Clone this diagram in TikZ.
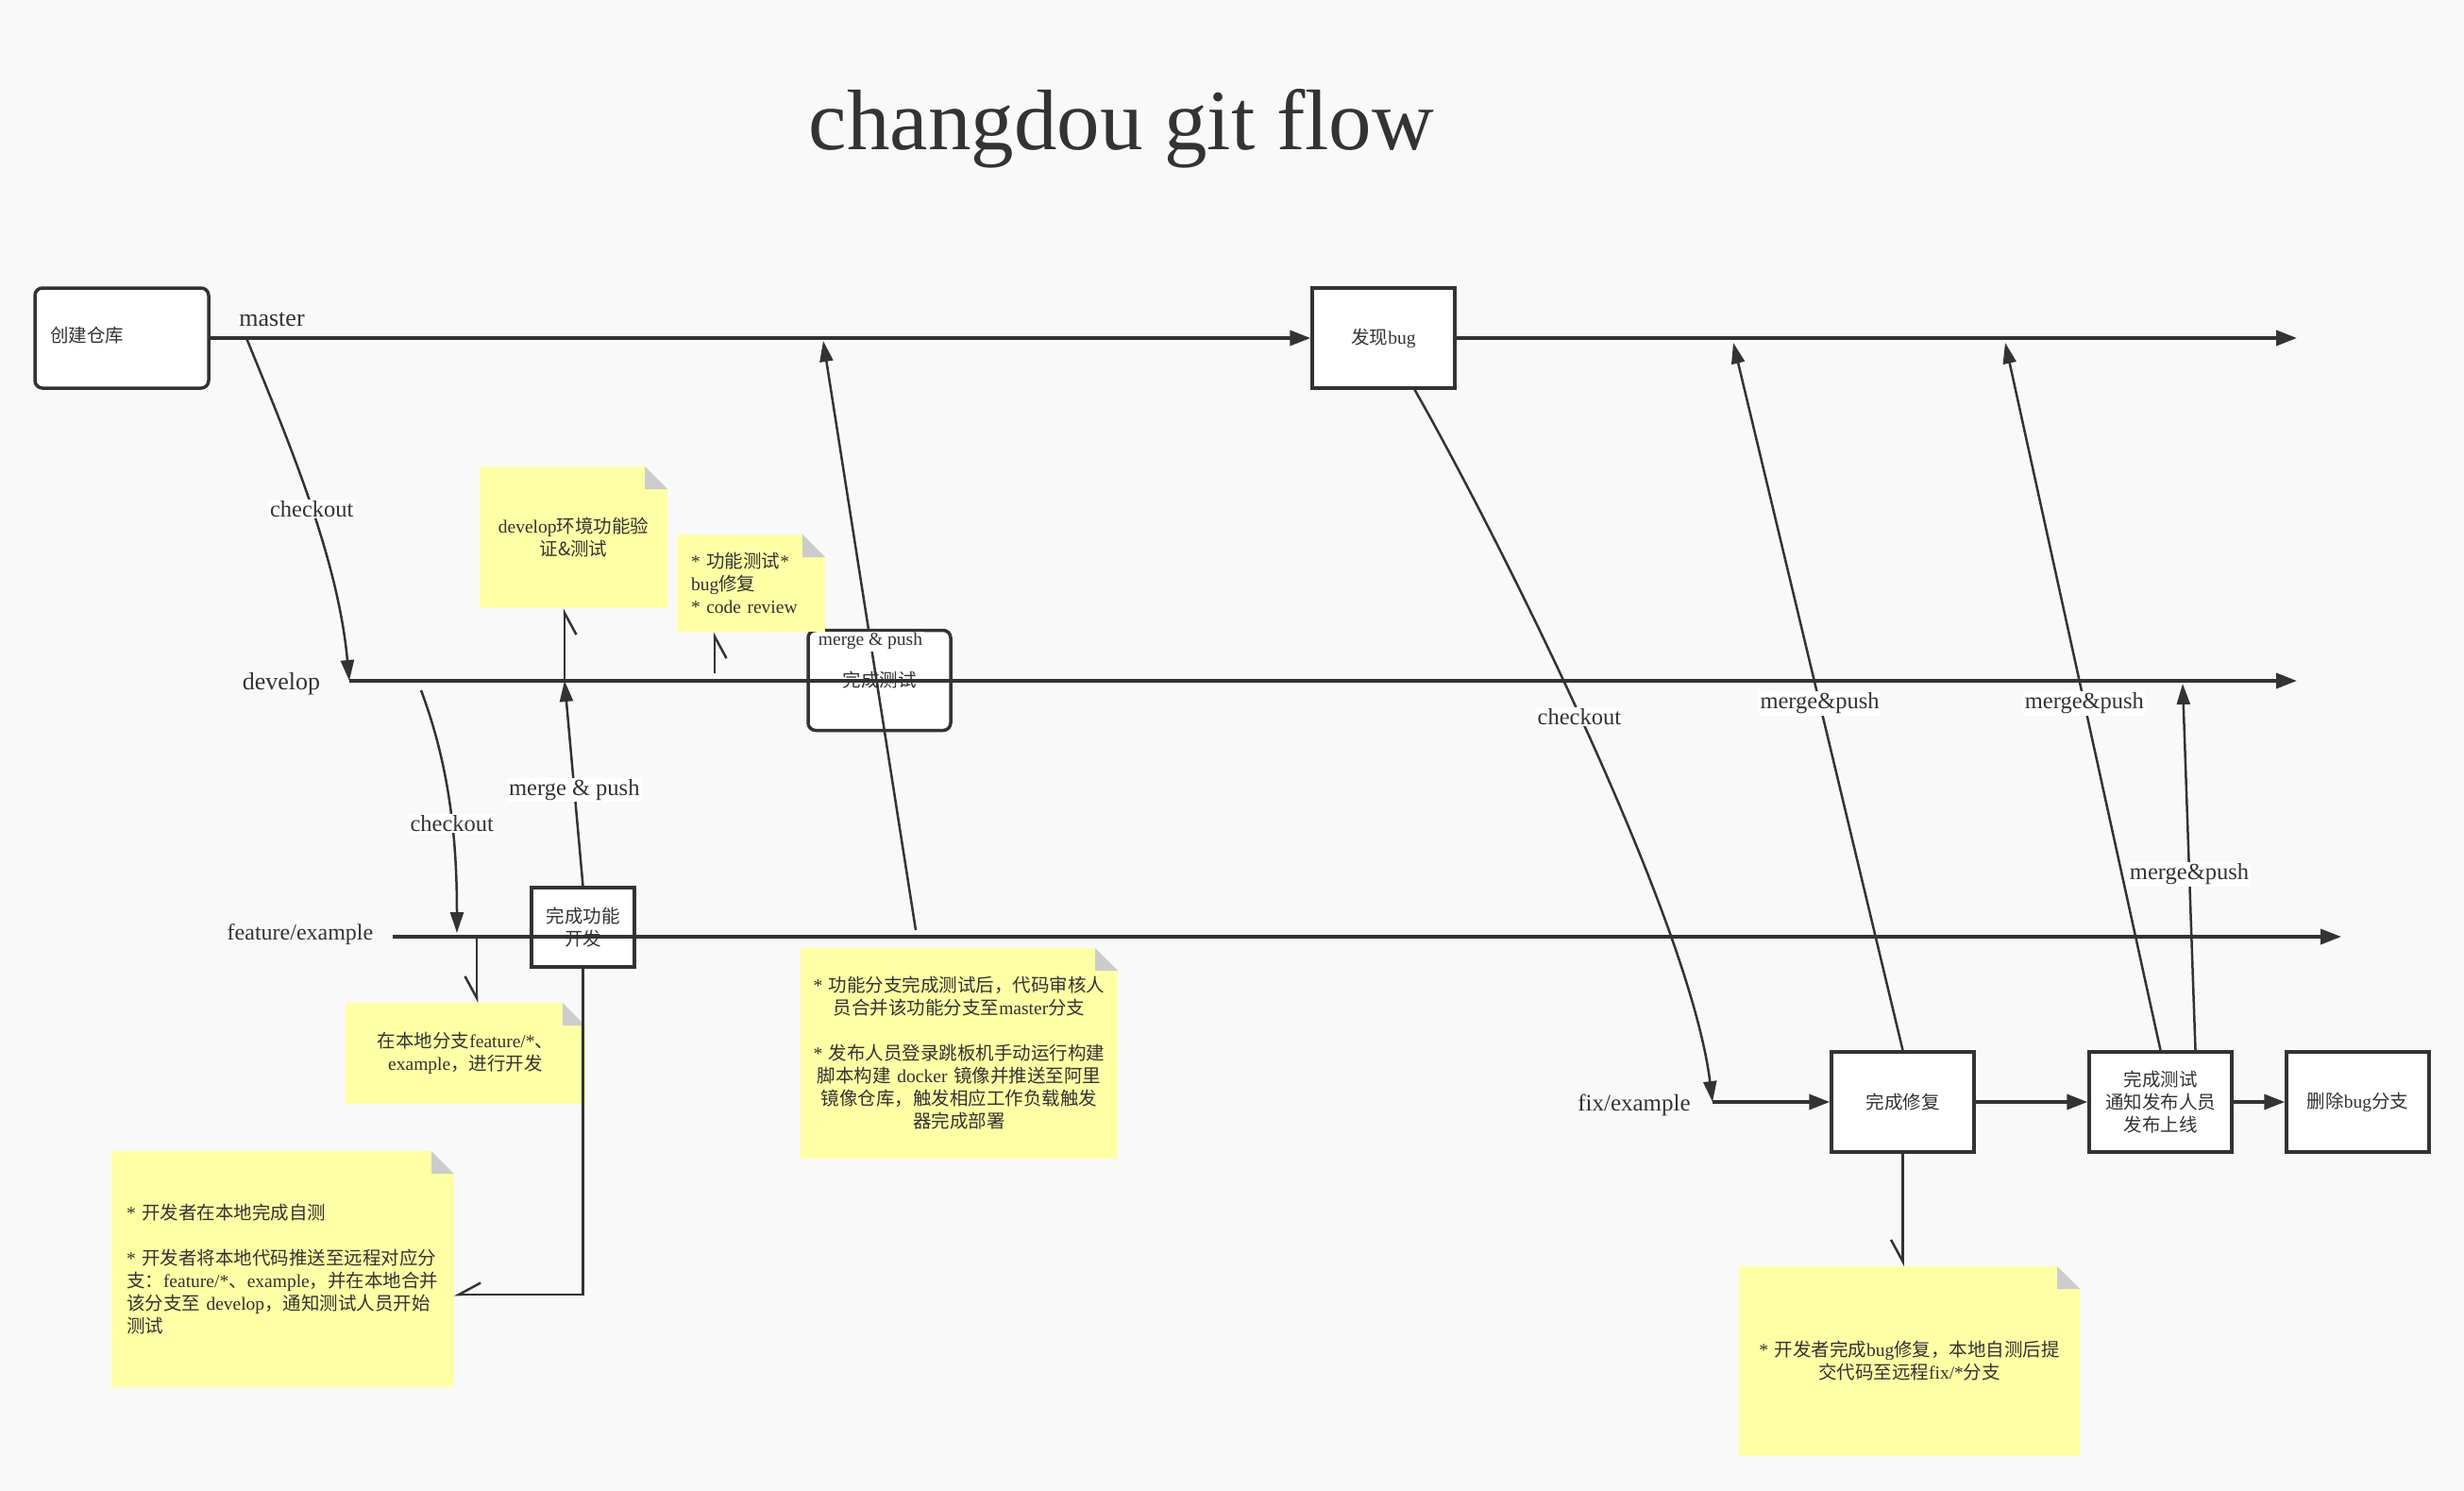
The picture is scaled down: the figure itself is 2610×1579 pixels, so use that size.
\documentclass[tikz,border=0pt]{standalone}
\usepackage{fontspec}
\setmainfont{Liberation Serif}
\newfontfamily\cjk{Noto Sans CJK SC}
\newcommand{\zh}[1]{{\cjk #1}}
\usetikzlibrary{arrows.meta, calc, positioning}

\definecolor{bgcol}{HTML}{F9F9F9}
\definecolor{inkc}{HTML}{333333}
\definecolor{notey}{HTML}{FFFFA6}
\definecolor{foldc}{HTML}{CCCCCC}

\tikzset{
  txt/.style={font=\fontsize{19.5}{24}\selectfont, text=inkc},
  box/.style={txt, draw=inkc, line width=3.5pt, fill=white, minimum width=151pt, minimum height=106pt, inner sep=0pt, align=center},
  note/.style={txt, fill=notey, inner sep=0pt, align=center,
    path picture={
      \fill[bgcol] ($(path picture bounding box.north east)+(-24pt,0pt)$) -- (path picture bounding box.north east) -- ++(0pt,-24pt) -- cycle;
      \fill[foldc] ($(path picture bounding box.north east)+(-24pt,0pt)$) -- ++(24pt,-24pt) -- ++(-24pt,0pt) -- cycle;
    }},
  branch/.style={font=\fontsize{26}{30}\selectfont, text=inkc},
  lbl/.style={font=\fontsize{24.5}{28}\selectfont, text=inkc, fill=white, inner sep=1.5pt},
  flow/.style={draw=inkc, line width=3.5pt, -{Triangle[length=22pt,width=16pt]}},
  link/.style={draw=inkc, line width=2.5pt, -{Triangle[length=22pt,width=14pt]}},
  hint/.style={draw=inkc, line width=2.5pt, -{Straight Barb[harpoon,swap,length=23pt,width=25pt]}},
}

\begin{document}
\begin{tikzpicture}[x=1pt,y=-1pt]
\fill[bgcol] (0,0) rectangle (2610,1579);
\useasboundingbox (0,0) rectangle (2610,1579);

\node[font=\fontsize{91}{100}\selectfont, text=inkc, anchor=base] (title) at (1188,158) {changdou git flow};

% boxes
\node[box, rounded corners=8pt, minimum width=184pt, text width=152pt, align=left] (repo) at (129,358) {\raisebox{8pt}{\zh{创建仓库}}};
\node[box] (bug) at (1465.5,358) {\zh{发现}bug};
\node[box, rounded corners=8pt] (devtest) at (931.5,720.5) {\zh{完成测试}};
\node[box, minimum width=109pt, minimum height=84pt] (featdone) at (617.5,982) {\zh{完成功能}\\\zh{开发}};
\node[box] (fixdone) at (2015.5,1167) {\zh{完成修复}};
\node[box] (release) at (2288.5,1167) {\zh{完成测试}\\\zh{通知发布人员}\\\zh{发布上线}};
\node[box] (delbranch) at (2497.5,1167) {\zh{删除}bug\zh{分支}};

% notes
\node[note, minimum width=199pt, minimum height=150pt, text width=170pt] (devnote) at (607.5,569) {develop\zh{环境功能验}\\\zh{证\&测试}};
\node[note, minimum width=157pt, minimum height=103pt, text width=127pt, align=left] (reviewnote) at (795.5,617.5) {* \zh{功能测试}*\\bug\zh{修复}\\{}* code review};
\node[note, minimum width=254pt, minimum height=107pt, text width=224pt] (localnote) at (493,1115.5) {\zh{在本地分支}feature/*\zh{、}\\example\zh{，进行开发}};
\node[note, minimum width=363pt, minimum height=250pt, text width=331pt, align=left] (pushnote) at (299.5,1344) {* \zh{开发者在本地完成自测}\\[24pt]* \zh{开发者将本地代码推送至远程对应分}\\\zh{支：}feature/*\zh{、}example\zh{，并在本地合并}\\\zh{该分支至} develop\zh{，通知测试人员开始}\\\zh{测试}};
\node[note, minimum width=336pt, minimum height=223pt, text width=316pt] (deploynote) at (1016,1115.5) {* \zh{功能分支完成测试后，代码审核人}\\\zh{员合并该功能分支至}master\zh{分支}\\[24pt]* \zh{发布人员登录跳板机手动运行构建}\\\zh{脚本构建} docker \zh{镜像并推送至阿里}\\\zh{镜像仓库，触发相应工作负载触发}\\\zh{器完成部署}};
\node[note, minimum width=361pt, minimum height=201pt, text width=331pt] (fixnote) at (2022.5,1441.5) {* \zh{开发者完成}bug\zh{修复，本地自测后提}\\\zh{交代码至远程}fix/*\zh{分支}};

% branch names
\node[branch] (mastername) at (288,338) {master};
\node[branch] (devname) at (298,724) {develop};
\node[font=\fontsize{24}{28}\selectfont, text=inkc] (featname) at (318,990) {feature/example};
\node[font=\fontsize{25}{28}\selectfont, text=inkc] (fixname) at (1731,1170) {fix/example};

\coordinate (masterend) at (2433,358);
\coordinate (devstart) at (370,721);
\coordinate (devend) at (2433,721);
\coordinate (featstart) at (416,992);
\coordinate (featend) at (2480,992);
\coordinate (fixstart) at (1814,1167);

% branches
\draw[flow] (repo.east) -- (bug.west);
\draw[flow] (bug.east) -- (masterend);
\draw[flow] (devstart) -- (devend);
\draw[flow] (featstart) -- (featend);
\draw[flow] (fixstart) -- (fixdone.west);
\draw[flow] (fixdone) -- (release);
\draw[flow] (release) -- (delbranch);

% checkout
\coordinate (mck) at (261,358);
\draw[link] (mck) .. controls +(45,110) and +(-12,-130) .. (devstart) node[lbl,pos=0.52] {checkout};
\coordinate (dck) at (446,731);
\coordinate (featck) at (484,988);
\draw[link] (dck) .. controls +(30,80) and +(0,-100) .. (featck) node[lbl,pos=0.58] {checkout};
\draw[link] ($(bug.south)+(33,0)$) .. controls +(80,140) and +(-25,-200) .. (fixstart) node[lbl,pos=0.49] {checkout};

% merges
\coordinate (devmerge) at (598,721);
\draw[link] (featdone.north) -- (devmerge) node[lbl,pos=0.47] {merge \& push};
\coordinate (featmerge) at (970,985);
\coordinate (mastermerge) at (872,361);
\draw[link] (featmerge) -- (mastermerge) node[lbl,pos=0.49,font=\fontsize{19.5}{22}\selectfont] {merge \& push};
\coordinate (hotmerge) at (1836,363);
\draw[link] (fixdone.north) -- (hotmerge) node[lbl,pos=0.49] {merge\&push};
\coordinate (relmerge) at (2124,363);
\draw[link] (release.north) -- (relmerge) node[lbl,pos=0.49] {merge\&push};
\coordinate (reldev) at (2312,724);
\draw[link] ($(release.north)+(37,0)$) -- (reldev) node[lbl,pos=0.48] {merge\&push};

% note pointers
\draw[hint] (devmerge) -- (devmerge |- devnote.south);
\coordinate (reviewfoot) at (757,713);
\draw[hint] (reviewfoot) -- (reviewfoot |- reviewnote.south);
\coordinate (featdown) at (505,992);
\draw[hint] (featdown) -- (featdown |- localnote.north);
\coordinate (pushcorner) at (617.5,1371);
\draw[hint] (featdone.south) -- (pushcorner) -- (pushcorner -| pushnote.east);
\draw[hint] (fixdone.south) -- (fixdone.south |- fixnote.north);

\end{tikzpicture}
\end{document}
